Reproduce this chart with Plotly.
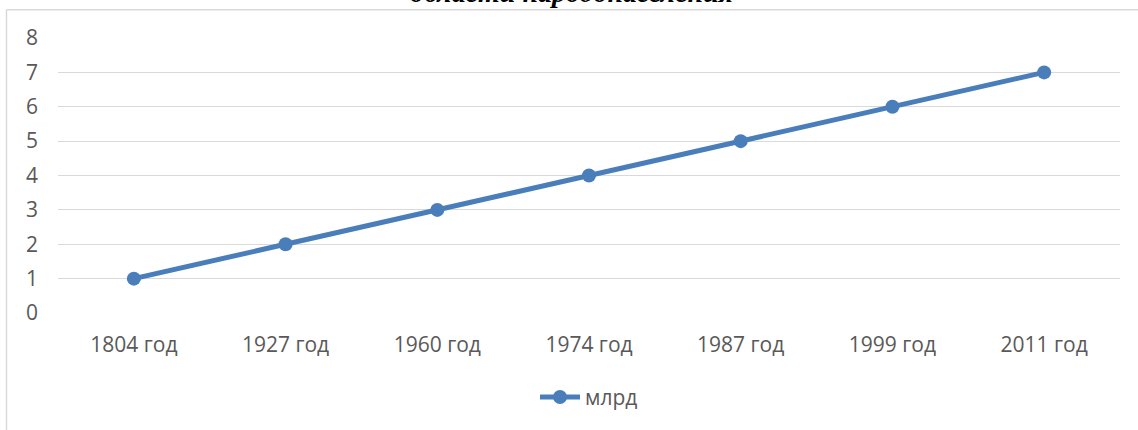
import plotly.graph_objects as go

years = ["1804 год", "1927 год", "1960 год", "1974 год", "1987 год", "1999 год", "2011 год"]
billions = [1, 2, 3, 4, 5, 6, 7]
series_name = "млрд"
title_text = "области народонаселения"

W, H = 1138, 430
L, R, T, B = 58, 18, 38, 115
pw, ph = W - L - R, H - T - B

def px_x(x):
    return (x - L) / pw

def px_y(y):
    return (H - B - y) / ph

line_color = "#4a7ebb"
grid_color = "#d9d9d9"
text_color = "#595959"
font_family = "Open Sans, Noto Sans, Liberation Sans, sans-serif"

fig = go.Figure()
fig.add_trace(go.Scatter(
    x=years, y=billions, name=series_name, mode="lines+markers",
    line=dict(color=line_color, width=5),
    marker=dict(color=line_color, size=14),
))

fig.update_layout(
    width=W, height=H,
    margin=dict(l=L, r=R, t=T, b=B),
    paper_bgcolor="white", plot_bgcolor="white",
    font=dict(family=font_family, size=21, color=text_color),
    showlegend=True,
    legend=dict(orientation="h", x=0.5, xanchor="center", y=px_y(400), yanchor="middle",
                font=dict(size=21, color=text_color), itemwidth=40),
    xaxis=dict(type="category", range=[-0.5, 6.5], showgrid=False, zeroline=False,
               showline=False, ticks="", ticklabelstandoff=17),
    yaxis=dict(range=[0, 8], dtick=1, showgrid=True, gridcolor=grid_color, gridwidth=1,
               zeroline=False, showline=False, ticks="", ticklabelstandoff=19),
    shapes=[
        dict(type="line", xref="paper", yref="paper", x0=px_x(6.5), x1=px_x(W + 5),
             y0=px_y(9.5), y1=px_y(9.5), line=dict(color=grid_color, width=1.5)),
        dict(type="line", xref="paper", yref="paper", x0=px_x(6.5), x1=px_x(6.5),
             y0=px_y(9.5), y1=px_y(H + 5), line=dict(color=grid_color, width=1.5)),
    ],
    annotations=[
        dict(text="<b><i>" + title_text + "</i></b>", xref="paper", yref="paper",
             x=px_x(571), y=px_y(-7.5), xanchor="center", yanchor="middle", showarrow=False,
             font=dict(family="Liberation Serif, Times New Roman, serif", size=28, color="black")),
    ],
)

fig.write_html("out.html", config={"displayModeBar": False},
               post_script="document.body.style.margin='0';")
